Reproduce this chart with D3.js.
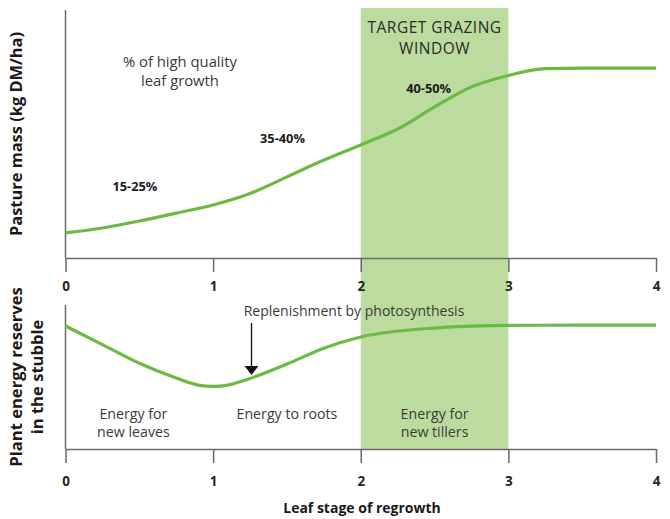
<!DOCTYPE html>
<html><head><meta charset="utf-8">
<script src="https://cdn.jsdelivr.net/npm/d3@7"></script>
<style>
html,body{margin:0;padding:0;background:#fff;}
svg{display:block;font-family:"Open Sans",sans-serif;}
</style></head>
<body>
<svg id="chart" width="670" height="519"></svg>
<script>
// ---- data ----
const stages = [0, 1, 2, 3, 4];
const windowRange = [2, 3];
const massX = [0, 0.25, 0.5, 0.75, 1.0, 1.25, 1.5, 1.75, 2.0, 2.25, 2.5, 2.75, 3.0, 3.25, 3.5, 4.0];
const massY = [10.1, 12.1, 14.9, 18.1, 21.4, 26.0, 32.7, 39.5, 45.6, 52.0, 60.9, 69.0, 73.6, 76.4, 76.6, 76.6];
const reserveX = [0, 0.25, 0.5, 0.75, 0.9, 1.0, 1.1, 1.25, 1.5, 1.75, 2.0, 2.5, 3.0, 3.5, 4.0];
const reserveY = [85.4, 72.5, 59.5, 49.3, 44.4, 43.5, 44.4, 49.0, 59.0, 70.0, 77.8, 84.0, 85.8, 86.0, 86.0];
const qualityLabels = ["15-25%", "35-40%", "40-50%"];
const qualityPos = [[0.47, 29], [1.47, 48.5], [2.46, 68.5]];
const arrowX = 1.26, arrowFrom = 87.5, arrowTo = 51.4;

const svg = d3.select("#chart");
const x = d3.scaleLinear().domain([0, 4]).range([65.5, 656]);
const yTop = d3.scaleLinear().domain([0, 100]).range([258, 10]);
const yBot = d3.scaleLinear().domain([0, 100]).range([449, 305]);

const green = "#6cb944", shade = "#bcdc9f", axisCol = "#6a6a6a", txt = "#262626";

// shaded target window
svg.append("rect")
  .attr("x", x(windowRange[0])).attr("width", x(windowRange[1]) - x(windowRange[0]))
  .attr("y", 8).attr("height", 449 - 8)
  .attr("fill", shade);

// axes
function drawXAxis(y0, labelY) {
  const g = svg.append("g").attr("transform", `translate(0,${y0})`)
    .call(d3.axisBottom(x).tickValues(stages).tickFormat(d3.format("d")).tickSize(14).tickSizeOuter(0).tickPadding(4));
  g.select(".domain").attr("stroke", axisCol).attr("stroke-width", 1.5);
  g.selectAll(".tick line").attr("stroke", axisCol).attr("stroke-width", 1.5);
  g.selectAll(".tick text").attr("fill", txt).attr("font-size", 13.5).attr("font-weight", "bold")
    .attr("font-family", "Open Sans").attr("y", labelY - y0).attr("dy", "0.35em");
}
drawXAxis(258, 286);
drawXAxis(449, 481);

svg.append("line").attr("x1", x(0)).attr("x2", x(0)).attr("y1", yTop(100)).attr("y2", yTop(0))
  .attr("stroke", axisCol).attr("stroke-width", 1.5);
svg.append("line").attr("x1", x(0)).attr("x2", x(0)).attr("y1", yBot(100)).attr("y2", yBot(0))
  .attr("stroke", axisCol).attr("stroke-width", 1.5);

// curves
const massLine = d3.line().x(d => x(d[0])).y(d => yTop(d[1])).curve(d3.curveMonotoneX);
svg.append("path").datum(massX.map((v, i) => [v, massY[i]]))
  .attr("d", massLine).attr("fill", "none").attr("stroke", green).attr("stroke-width", 3.2);
const resLine = d3.line().x(d => x(d[0])).y(d => yBot(d[1])).curve(d3.curveMonotoneX);
svg.append("path").datum(reserveX.map((v, i) => [v, reserveY[i]]))
  .attr("d", resLine).attr("fill", "none").attr("stroke", green).attr("stroke-width", 3.2);

// text helper: one <text> per line
function text(xp, yp, lines, opts) {
  lines.forEach((l, i) => {
    const t = svg.append("text").attr("x", xp).attr("y", yp + i * (opts.lh || 0))
      .attr("text-anchor", opts.anchor || "middle")
      .attr("font-size", opts.size).attr("font-weight", opts.weight || "normal")
      .attr("fill", opts.fill || txt).attr("dominant-baseline", "central")
      .text(l);
    if (opts.ls) t.attr("letter-spacing", opts.ls);
  });
}

text(x(2.5), 26.5, ["TARGET GRAZING", "WINDOW"], {size: 15.5, lh: 21.5, ls: 0.5, fill: "#2a2a2a"});
text(180, 61, ["% of high quality", "leaf growth"], {size: 14.8, lh: 19, fill: "#3a3a3a"});
qualityLabels.forEach((l, i) => text(x(qualityPos[i][0]), yTop(qualityPos[i][1]), [l], {size: 12.8, weight: "bold", fill: "#1a1a1a"}));

// arrow
svg.append("line").attr("x1", x(arrowX)).attr("x2", x(arrowX))
  .attr("y1", yBot(arrowFrom)).attr("y2", yBot(arrowTo) - 6)
  .attr("stroke", "#111").attr("stroke-width", 1.3);
const tip = yBot(arrowTo), ax = x(arrowX);
svg.append("path").attr("d", `M${ax - 7},${tip - 9}L${ax + 7},${tip - 9}L${ax},${tip}Z`).attr("fill", "#111");
text(354, 310, ["Replenishment by photosynthesis"], {size: 14, fill: "#3a3a3a"});

text(x(0.46), 413, ["Energy for", "new leaves"], {size: 14.2, lh: 18, fill: "#3a3a3a"});
text(x(1.5), 413, ["Energy to roots"], {size: 14.2, fill: "#3a3a3a"});
text(x(2.5), 413, ["Energy for", "new tillers"], {size: 14.2, lh: 18, fill: "#3a3a3a"});

// axis titles
svg.append("text").attr("transform", "translate(15,134) rotate(-90)")
  .attr("text-anchor", "middle").attr("font-size", 16.4).attr("font-weight", "bold").attr("fill", "#1a1a1a")
  .attr("dominant-baseline", "central").text("Pasture mass (kg DM/ha)");
["Plant energy reserves", "in the stubble"].forEach((l, i) => {
  svg.append("text").attr("transform", `translate(${15 + i * 21},377) rotate(-90)`)
    .attr("text-anchor", "middle").attr("font-size", 16.6).attr("font-weight", "bold").attr("fill", "#1a1a1a")
    .attr("dominant-baseline", "central").text(l);
});

text(362, 507, ["Leaf stage of regrowth"], {size: 14, weight: "bold", fill: "#1a1a1a"});
</script>
</body></html>
